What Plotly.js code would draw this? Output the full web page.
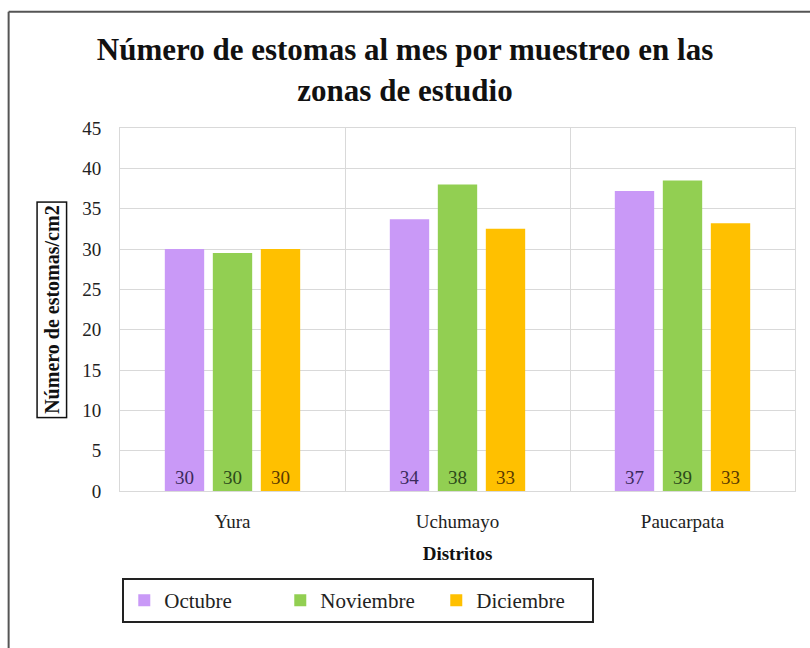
<!DOCTYPE html>
<html><head><meta charset="utf-8">
<script src="https://cdn.plot.ly/plotly-3.0.1.min.js"></script>
<style>body{margin:0;background:#fff}#c{width:810px;height:648px}</style>
</head><body><div id="c"></div>
<script>
const distritos = ['Yura', 'Uchumayo', 'Paucarpata'];
const octubre = [30.0, 33.7, 37.2];
const noviembre = [29.5, 38.0, 38.5];
const diciembre = [30.0, 32.5, 33.2];
const seriesNames = ['Octubre', 'Noviembre', 'Diciembre'];
const yTicks = [0, 5, 10, 15, 20, 25, 30, 35, 40, 45];

const serif = 'Liberation Serif, Times New Roman, serif';
const colors = ['#C999F7', '#92CF52', '#FFC000'];
const labelColors = ['#3b2a5c', '#2c4a1a', '#5a3a00'];
const vals = [octubre, noviembre, diciembre];

const traces = vals.map((v, i) => ({
  type: 'bar', name: seriesNames[i], x: distritos, y: v,
  marker: {color: colors[i]},
  text: v.map(d => String(Math.round(d))),
  textposition: 'inside', insidetextanchor: 'start',
  textangle: 0,
  textfont: {family: serif, size: 19, color: labelColors[i]},
  hoverinfo: 'x+y'
}));

const layout = {
  width: 810, height: 648,
  margin: {l: 120, r: 15, t: 128, b: 157},
  paper_bgcolor: '#fff', plot_bgcolor: '#fff',
  title: {text: '<b>Número de estomas al mes por muestreo en las<br>zonas de estudio</b>',
    font: {family: serif, size: 31, color: '#111'}, x: 0.5, xanchor: 'center', y: 0.907, yanchor: 'top'},
  barmode: 'group', bargap: 0.36, bargroupgap: 0.18,
  xaxis: {tickson: 'boundaries', showgrid: true, gridcolor: '#d9d9d9', ticks: '',
    showline: true, linecolor: '#d9d9d9', mirror: true, ticklabelstandoff: 13,
    tickfont: {family: serif, size: 19, color: '#222'},
    title: {text: '<b>Distritos</b>', font: {family: serif, size: 19, color: '#111'}, standoff: 15}},
  yaxis: {range: [0, 45], tickvals: yTicks, showgrid: true, gridcolor: '#d9d9d9',
    zeroline: false, showline: true, linecolor: '#d9d9d9', mirror: true, ticks: '',
    tickfont: {family: serif, size: 19, color: '#222'}, ticklabelstandoff: 14},
  legend: {orientation: 'h', x: 0.353, xanchor: 'center', y: -0.24, yanchor: 'top',
    bordercolor: '#222', borderwidth: 2, font: {family: serif, size: 21, color: '#222'},
    itemwidth: 30, entrywidth: 111, traceorder: 'normal'},
  annotations: [{xref: 'paper', yref: 'paper', x: -0.101, y: 0.5, xanchor: 'center', yanchor: 'middle',
    text: '<b>Número de estomas/cm2</b>', textangle: -90, showarrow: false,
    font: {family: serif, size: 20, color: '#111'}, bordercolor: '#111', borderwidth: 1.5, borderpad: 3}],
  shapes: [
    {type: 'line', xref: 'paper', yref: 'paper', x0: -0.165, x1: 1.03, y0: 1.32, y1: 1.32, line: {color: '#555', width: 2}},
    {type: 'line', xref: 'paper', yref: 'paper', x0: -0.165, x1: -0.165, y0: 1.32, y1: -0.45, line: {color: '#555', width: 2}}
  ],
  showlegend: true
};
Plotly.newPlot('c', traces, layout, {displayModeBar: false, staticPlot: true});
</script></body></html>
